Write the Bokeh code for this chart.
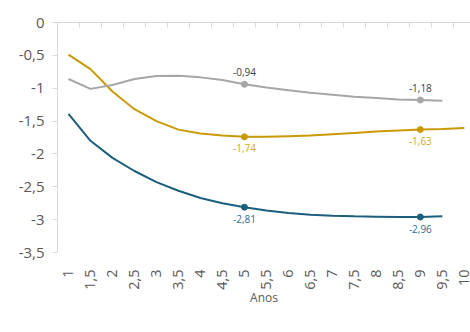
import math
from bokeh.plotting import figure
from bokeh.models import (LinearAxis, FixedTicker, Legend, LegendItem, ColumnDataSource, Range1d)
from bokeh.core.properties import value
from bokeh.embed import file_html
from bokeh.resources import INLINE

# ---- data ----
anos = [1, 1.5, 2, 2.5, 3, 3.5, 4, 4.5, 5, 5.5, 6, 6.5, 7, 7.5, 8, 8.5, 9, 9.5, 10]
juros_reais = [-0.49, -0.71, -1.05, -1.32, -1.50, -1.63, -1.69, -1.72, -1.74, -1.74,
               -1.73, -1.72, -1.70, -1.68, -1.66, -1.645, -1.63, -1.62, -1.605]
anos_nom = anos[:-1]
juros_nominais = [-1.39, -1.80, -2.06, -2.26, -2.43, -2.56, -2.67, -2.75, -2.81, -2.86,
                  -2.90, -2.925, -2.94, -2.95, -2.955, -2.96, -2.96, -2.95]
inflacao = [-0.86, -1.01, -0.95, -0.86, -0.815, -0.81, -0.835, -0.876, -0.94, -0.99,
            -1.03, -1.07, -1.10, -1.13, -1.15, -1.17, -1.18, -1.19]
label_anos = [5, 9]
y_ticks = [0, -0.5, -1, -1.5, -2, -2.5, -3, -3.5]
series_names = ["Juros reais", "Juros nominais", "Inflação"]

C_REAIS = "#C99A06"
C_NOM = "#1B5E7E"
C_INF = "#A6A6A6"
C_REAIS_LBL = "#D4A52A"
C_NOM_LBL = "#2C6F92"
C_INF_LBL = "#404040"
C_AXIS = "#595959"
C_LINE = "#D9D9D9"
FONT = "Open Sans"


def fmt(v):
    s = ("%g" % v)
    return s.replace(".", ",")


p = figure(width=470, height=332, output_backend="svg", toolbar_location=None,
           x_range=Range1d(0.75, 10.14), y_range=Range1d(-3.5, 0),
           x_axis_location=None, y_axis_location=None,
           min_border_left=57, min_border_right=0, min_border_top=22, min_border_bottom=80)
p.outline_line_color = None
p.xgrid.visible = False
p.ygrid.visible = False
p.background_fill_color = "white"
p.border_fill_color = "white"

# left axis
yax = LinearAxis(ticker=FixedTicker(ticks=y_ticks),
                 major_label_overrides={t: fmt(t) for t in y_ticks})
yax.axis_line_color = C_LINE
yax.major_tick_line_color = C_LINE
yax.major_tick_in = 0
yax.major_tick_out = 5
yax.minor_tick_line_color = None
yax.major_label_text_color = C_AXIS
yax.major_label_text_font = FONT
yax.major_label_text_font_size = "15px"
yax.major_label_standoff = 8
p.add_layout(yax, "left")

# top axis line (at y = 0) with category boundary ticks
bounds = [0.75 + 0.5 * i for i in range(20)]
tax = LinearAxis(ticker=FixedTicker(ticks=bounds),
                 major_label_overrides={b: "" for b in bounds})
tax.axis_line_color = C_LINE
tax.major_tick_line_color = C_LINE
tax.major_tick_in = 5
tax.major_tick_out = 0
tax.minor_tick_line_color = None
tax.major_label_text_font_size = "1px"
tax.major_label_standoff = 0
p.add_layout(tax, "above")

# bottom labels (category names)
xax = LinearAxis(ticker=FixedTicker(ticks=anos),
                 major_label_overrides={a: fmt(a) for a in anos})
xax.axis_line_color = None
xax.major_tick_line_color = None
xax.minor_tick_line_color = None
xax.major_label_orientation = math.pi / 2
xax.major_label_text_color = C_AXIS
xax.major_label_text_font = FONT
xax.major_label_text_font_size = "14.5px"
xax.major_label_standoff = 11
xax.axis_label = "Anos"
xax.axis_label_text_font = FONT
xax.axis_label_text_font_style = "normal"
xax.axis_label_text_font_size = "12px"
xax.axis_label_text_color = C_AXIS
xax.axis_label_standoff = -4
p.add_layout(xax, "below")

r1 = p.line(anos, juros_reais, line_color=C_REAIS, line_width=2)
r2 = p.line(anos_nom, juros_nominais, line_color=C_NOM, line_width=2)
r3 = p.line(anos_nom, inflacao, line_color=C_INF, line_width=2)


def pick(xs, ys):
    lx, ly, lt = [], [], []
    for a in label_anos:
        i = xs.index(a)
        lx.append(a)
        ly.append(ys[i])
        lt.append(fmt(round(ys[i], 2)))
    return lx, ly, lt


for xs, ys, col, lcol, off, base in [
        (anos, juros_reais, C_REAIS, C_REAIS_LBL, -11, "middle"),
        (anos_nom, juros_nominais, C_NOM, C_NOM_LBL, -12, "middle"),
        (anos_nom, inflacao, C_INF, C_INF_LBL, 12, "middle")]:
    lx, ly, lt = pick(xs, ys)
    src = ColumnDataSource(dict(x=lx, y=ly, t=lt))
    p.scatter("x", "y", source=src, size=6, fill_color=col, line_color=col)
    p.text("x", "y", text="t", source=src, text_color=lcol, text_font=value(FONT),
           text_font_size="10px", text_align="center", text_baseline=base,
           y_offset=-off)

legend = Legend(items=[LegendItem(label=series_names[0], renderers=[r1]),
                       LegendItem(label=series_names[1], renderers=[r2]),
                       LegendItem(label=series_names[2], renderers=[r3])],
                orientation="horizontal", location=(44, -76))
legend.label_text_font = FONT
legend.label_text_font_size = "13.5px"
legend.label_text_color = C_AXIS
legend.glyph_width = 18
legend.glyph_height = 14
legend.label_height = 14
legend.label_standoff = 1
legend.spacing = 20
legend.padding = 0
legend.margin = 0
legend.border_line_color = None
legend.background_fill_alpha = 0
p.add_layout(legend, "center")

open("out.html", "w").write(file_html(p, INLINE))
